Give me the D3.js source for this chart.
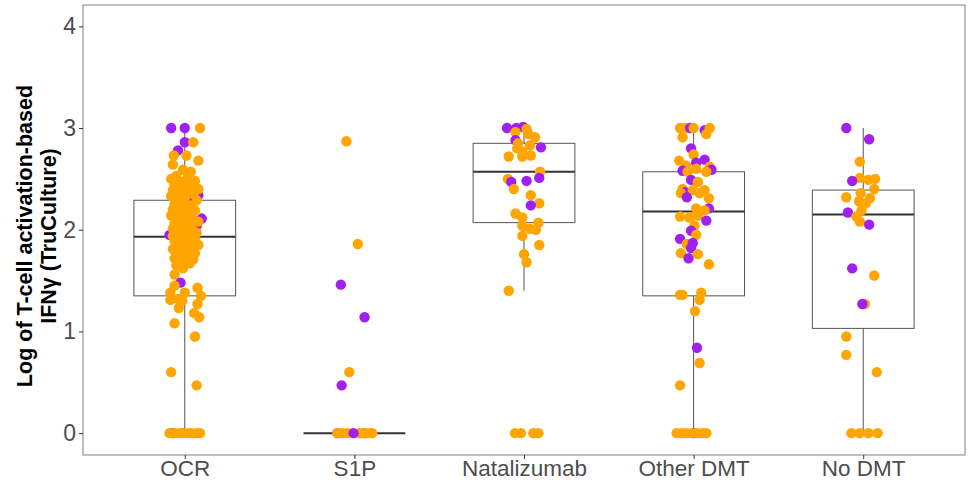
<!DOCTYPE html>
<html><head><meta charset="utf-8">
<script src="https://cdn.jsdelivr.net/npm/d3@7"></script>
<style>body{margin:0;background:#fff}svg{display:block}</style>
</head><body><div id="chart"></div>
<script>
const categories = ["OCR", "S1P", "Natalizumab", "Other DMT", "No DMT"];
const yTicks = [0, 1, 2, 3, 4];
const groupColors = { o: "#FFA500", p: "#A020F0" };
// Box statistics: [lower whisker, q1, median, q3, upper whisker]
const boxOCR = [0, 1.35, 1.93, 2.29, 3.0];
const boxS1P = [0, 0, 0, 0, 0];
const boxNat = [1.40, 2.07, 2.57, 2.85, 3.0];
const boxOther = [0, 1.35, 2.18, 2.57, 3.0];
const boxNo = [0, 1.03, 2.15, 2.39, 3.0];
// Points: [value, jitter (fraction of category step), group]
const ptsOCR = [
 [3.0,-0.08,"p"],[3.0,0,"p"],[3.0,0.09,"o"],[2.86,0,"p"],[2.86,0.05,"o"],[2.78,-0.04,"p"],
 [2.73,-0.065,"o"],[2.73,0.01,"o"],[2.68,0.08,"o"],[2.64,-0.07,"o"],[2.59,-0.01,"o"],[2.57,0.035,"o"],
 [2.37,-0.035,"p"],[2.34,0.08,"p"],[2.31,0.025,"p"],[2.16,0.005,"p"],[2.11,0.1,"p"],[2.04,0.07,"p"],[1.95,-0.09,"p"],[1.83,-0.05,"p"],
 [2.53,-0.05,"o"],[2.52,0.02,"o"],[2.50,-0.08,"o"],[2.48,0.06,"o"],[2.47,-0.02,"o"],[2.45,0.0,"o"],[2.44,-0.06,"o"],[2.43,0.04,"o"],
 [2.42,-0.03,"o"],[2.40,0.08,"o"],[2.39,-0.07,"o"],[2.38,0.01,"o"],[2.37,-0.04,"o"],[2.35,0.05,"o"],[2.34,-0.01,"o"],[2.33,-0.08,"o"],
 [2.31,0.0,"o"],[2.30,-0.05,"o"],[2.29,0.07,"o"],[2.28,-0.02,"o"],[2.27,0.0,"o"],[2.25,-0.06,"o"],[2.24,0.04,"o"],[2.23,-0.03,"o"],
 [2.22,0.02,"o"],[2.20,-0.07,"o"],[2.19,0.06,"o"],[2.18,-0.01,"o"],[2.17,-0.05,"o"],[2.15,0.03,"o"],[2.14,-0.08,"o"],[2.13,0.01,"o"],
 [2.12,-0.04,"o"],[2.10,0.05,"o"],[2.09,-0.02,"o"],[2.08,0.08,"o"],[2.06,-0.06,"o"],[2.05,0.0,"o"],[2.04,-0.03,"o"],[2.02,0.04,"o"],
 [2.01,-0.07,"o"],[2.00,0.02,"o"],[1.98,-0.05,"o"],[1.97,0.07,"o"],[1.96,-0.01,"o"],[1.94,-0.07,"o"],[1.93,0.03,"o"],[1.92,-0.03,"o"],
 [1.90,0.06,"o"],[1.89,-0.06,"o"],[1.88,0.01,"o"],[1.86,-0.04,"o"],[1.85,0.08,"o"],[1.84,-0.02,"o"],[1.82,0.04,"o"],[1.81,-0.07,"o"],
 [1.80,0.0,"o"],[1.78,-0.05,"o"],[1.77,0.06,"o"],[1.76,-0.03,"o"],[1.74,0.02,"o"],[1.72,-0.06,"o"],[1.71,0.05,"o"],[1.69,-0.02,"o"],
 [1.67,0.03,"o"],[1.65,-0.05,"o"],[1.62,-0.01,"o"],
 [1.56,-0.06,"o"],[1.48,-0.025,"p"],[1.45,-0.06,"o"],[1.43,0.075,"o"],[1.38,-0.085,"o"],[1.38,0.0,"o"],[1.35,0.095,"o"],[1.32,-0.04,"o"],
 [1.31,-0.085,"o"],[1.30,-0.015,"o"],[1.27,0.075,"o"],[1.23,-0.035,"o"],[1.18,0.055,"o"],[1.14,0.085,"o"],[1.08,-0.06,"o"],[0.95,0.06,"o"],
 [0.60,-0.08,"o"],[0.47,0.07,"o"],
 [0,-0.07,"p"],[0,-0.09,"o"],[0,-0.06,"o"],[0,-0.03,"o"],[0,-0.01,"o"],[0,0.02,"o"],[0,0.04,"o"],[0,0.07,"o"],[0,0.09,"o"]
];
const ptsS1P = [
 [2.87,-0.047,"o"],[1.86,0.02,"o"],[1.46,-0.08,"p"],[1.14,0.06,"p"],[0.60,-0.03,"o"],[0.47,-0.075,"p"],
 [0,-0.1,"p"],[0,0.06,"p"],[0,-0.1,"o"],[0,-0.07,"o"],[0,-0.04,"o"],[0,0.03,"o"],[0,0.06,"o"],[0,0.09,"o"],[0,0.105,"o"],[0,-0.005,"p"]
];
const ptsNat = [
 [3.0,-0.1,"p"],[3.0,-0.045,"p"],[3.01,-0.005,"p"],[2.99,0.015,"o"],[2.96,-0.05,"o"],[2.94,0.025,"o"],[2.91,0.065,"o"],
 [2.88,-0.05,"p"],[2.85,-0.035,"o"],[2.83,0.035,"o"],[2.81,0.1,"p"],[2.80,-0.04,"o"],[2.77,-0.01,"o"],[2.72,-0.09,"o"],
 [2.72,-0.01,"o"],[2.73,0.04,"o"],[2.57,0.095,"o"],[2.50,-0.095,"o"],[2.47,-0.075,"p"],[2.48,0.015,"p"],[2.51,0.09,"p"],
 [2.40,-0.06,"o"],[2.34,0.04,"o"],[2.26,0.09,"o"],[2.24,0.04,"p"],[2.16,-0.05,"o"],[2.12,-0.01,"o"],[2.07,0.085,"o"],
 [2.04,-0.01,"o"],[2.01,0.035,"o"],[2.0,0.07,"o"],[1.94,-0.01,"o"],[1.85,0.09,"o"],[1.76,0.0,"o"],[1.68,0.015,"o"],[1.40,-0.09,"o"],
 [0,-0.053,"o"],[0,-0.018,"o"],[0,0.055,"o"],[0,0.085,"o"]
];
const ptsOther = [
 [3.0,-0.08,"o"],[3.0,-0.05,"o"],[3.0,-0.02,"p"],[3.0,0.0,"o"],[2.98,0.065,"p"],[3.0,0.095,"o"],[2.94,0.075,"o"],[2.91,-0.065,"o"],
 [2.80,-0.015,"p"],[2.74,0.0,"o"],[2.68,-0.085,"o"],[2.69,0.065,"p"],[2.66,0.015,"p"],[2.63,-0.045,"o"],[2.58,-0.065,"p"],[2.62,0.095,"o"],
 [2.59,0.105,"p"],[2.57,0.075,"o"],[2.57,-0.035,"o"],[2.60,0.015,"o"],[2.49,-0.015,"p"],[2.47,0.025,"o"],[2.40,-0.065,"o"],[2.37,-0.05,"p"],
 [2.39,-0.005,"o"],[2.39,0.065,"o"],[2.36,-0.075,"o"],[2.32,-0.04,"p"],[2.36,0.035,"o"],[2.31,0.09,"o"],[2.21,0.09,"p"],[2.21,0.015,"o"],
 [2.19,0.065,"o"],[2.13,-0.08,"o"],[2.12,-0.025,"o"],[2.14,0.025,"o"],[2.09,0.075,"p"],[2.04,0.005,"o"],[1.99,-0.015,"p"],[1.95,0.015,"o"],
 [1.91,-0.08,"p"],[1.86,-0.04,"o"],[1.87,-0.005,"p"],[1.82,-0.015,"p"],[1.77,-0.075,"o"],[1.76,0.025,"o"],[1.72,-0.03,"p"],[1.66,0.09,"o"],
 [1.36,-0.08,"o"],[1.36,-0.065,"o"],[1.38,0.045,"o"],[1.31,0.035,"o"],[1.20,0.008,"o"],[0.84,0.02,"p"],[0.69,0.035,"o"],[0.47,-0.08,"o"],
 [0,0.0,"p"],[0,-0.1,"o"],[0,-0.07,"o"],[0,-0.04,"o"],[0,-0.01,"o"],[0,0.02,"o"],[0,0.05,"o"],[0,0.075,"o"]
];
const ptsNo = [
 [3.0,-0.1,"p"],[2.89,0.035,"p"],[2.67,-0.02,"o"],[2.51,-0.02,"o"],[2.49,0.03,"o"],[2.50,0.07,"o"],[2.48,-0.065,"p"],
 [2.40,0.065,"o"],[2.36,-0.015,"o"],[2.32,-0.1,"o"],[2.31,0.04,"o"],[2.28,-0.025,"o"],[2.26,0.015,"o"],[2.19,-0.01,"o"],
 [2.17,-0.09,"p"],[2.13,-0.04,"o"],[2.08,-0.02,"o"],[2.05,0.035,"p"],[1.62,-0.065,"p"],[1.55,0.065,"o"],[1.27,0.01,"o"],
 [1.27,-0.005,"p"],[0.95,-0.1,"o"],[0.77,-0.1,"o"],[0.60,0.08,"o"],
 [0,-0.07,"o"],[0,-0.02,"o"],[0,0.03,"o"],[0,0.085,"o"]
];
const boxStats = [boxOCR, boxS1P, boxNat, boxOther, boxNo];
const pointSets = [ptsOCR, ptsS1P, ptsNat, ptsOther, ptsNo];

const W = 971, H = 480;
const m = { left: 83, right: 6, top: 5, bottom: 25 };
const svg = d3.select("#chart").append("svg").attr("width", W).attr("height", H);
const x = d3.scalePoint().domain(categories).range([m.left, W - m.right]).padding(0.6);
const y = d3.scaleLinear().domain([-0.215, 4.21]).range([H - m.bottom, m.top]);
const step = x.step();
const bw = step * 0.6;
const font = "'Liberation Sans', Arial, Helvetica, sans-serif";

// boxes
categories.forEach((c, i) => {
  const b = boxStats[i], cx = x(c);
  const g = svg.append("g");
  g.append("line").attr("x1", cx).attr("x2", cx).attr("y1", y(b[0])).attr("y2", y(b[1]))
    .attr("stroke", "#555").attr("stroke-width", 1);
  g.append("line").attr("x1", cx).attr("x2", cx).attr("y1", y(b[3])).attr("y2", y(b[4]))
    .attr("stroke", "#555").attr("stroke-width", 1);
  g.append("rect").attr("x", cx - bw / 2).attr("width", bw).attr("y", y(b[3]))
    .attr("height", Math.max(0, y(b[1]) - y(b[3]))).attr("fill", "#fff")
    .attr("stroke", "#555").attr("stroke-width", 1);
  g.append("line").attr("x1", cx - bw / 2).attr("x2", cx + bw / 2).attr("y1", y(b[2])).attr("y2", y(b[2]))
    .attr("stroke", "#333").attr("stroke-width", 2);
});

// points
categories.forEach((c, i) => {
  svg.append("g").selectAll("circle").data(pointSets[i]).join("circle")
    .attr("cx", d => x(c) + d[1] * step)
    .attr("cy", d => y(d[0]))
    .attr("r", 5.2)
    .attr("fill", d => groupColors[d[2]]);
});

// panel border
svg.append("rect").attr("x", m.left).attr("y", m.top).attr("width", W - m.left - m.right)
  .attr("height", H - m.top - m.bottom).attr("fill", "none").attr("stroke", "#7f7f7f").attr("stroke-width", 1);

// y axis
const ya = svg.append("g").attr("transform", `translate(${m.left},0)`)
  .call(d3.axisLeft(y).tickValues(yTicks).tickSize(4).tickPadding(3).tickFormat(d3.format("d")));
ya.select(".domain").remove();
ya.selectAll("line").attr("stroke", "#333");
ya.selectAll("text").attr("font-family", font).attr("font-size", 23).attr("fill", "#4d4d4d");

// x axis
const xa = svg.append("g").attr("transform", `translate(0,${H - m.bottom})`)
  .call(d3.axisBottom(x).tickSize(4).tickPadding(1));
xa.select(".domain").remove();
xa.selectAll("line").attr("stroke", "#333");
xa.selectAll("text").attr("font-family", font).attr("font-size", 22.5).attr("fill", "#4d4d4d");

// y title
const t = svg.append("text").attr("transform", `translate(36,236) rotate(-90)`)
  .attr("text-anchor", "middle").attr("font-family", font).attr("font-size", 21.5)
  .attr("font-weight", "bold").attr("fill", "#000");
t.append("tspan").attr("x", 0).attr("dy", "-0.2em").text("Log of T-cell activation-based");
t.append("tspan").attr("x", 0).attr("dy", "1.12em").text("IFNγ (TruCulture)");
</script>
</body></html>
